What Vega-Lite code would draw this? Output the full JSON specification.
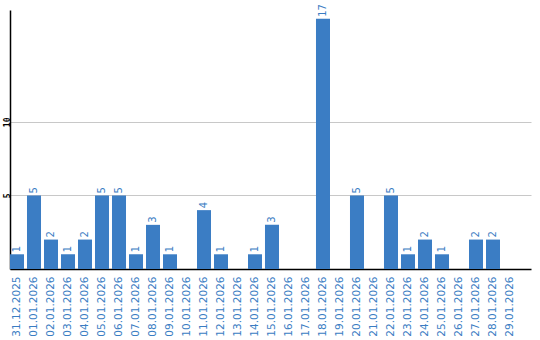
{
  "$schema": "https://vega.github.io/schema/vega-lite/v6.json",
  "width": 521,
  "height": 259,
  "autosize": {"type": "none"},
  "padding": {"left": 10, "top": 10, "right": 9, "bottom": 71},
  "background": "white",
  "config": {"view": {"stroke": null}},
  "data": {"values": [
    {"date": "31.12.2025", "count": 1},
    {"date": "01.01.2026", "count": 5},
    {"date": "02.01.2026", "count": 2},
    {"date": "03.01.2026", "count": 1},
    {"date": "04.01.2026", "count": 2},
    {"date": "05.01.2026", "count": 5},
    {"date": "06.01.2026", "count": 5},
    {"date": "07.01.2026", "count": 1},
    {"date": "08.01.2026", "count": 3},
    {"date": "09.01.2026", "count": 1},
    {"date": "10.01.2026", "count": 0},
    {"date": "11.01.2026", "count": 4},
    {"date": "12.01.2026", "count": 1},
    {"date": "13.01.2026", "count": 0},
    {"date": "14.01.2026", "count": 1},
    {"date": "15.01.2026", "count": 3},
    {"date": "16.01.2026", "count": 0},
    {"date": "17.01.2026", "count": 0},
    {"date": "18.01.2026", "count": 17},
    {"date": "19.01.2026", "count": 0},
    {"date": "20.01.2026", "count": 5},
    {"date": "21.01.2026", "count": 0},
    {"date": "22.01.2026", "count": 5},
    {"date": "23.01.2026", "count": 1},
    {"date": "24.01.2026", "count": 2},
    {"date": "25.01.2026", "count": 1},
    {"date": "26.01.2026", "count": 0},
    {"date": "27.01.2026", "count": 2},
    {"date": "28.01.2026", "count": 2},
    {"date": "29.01.2026", "count": 0}
  ]},
  "encoding": {
    "x": {
      "field": "date", "type": "nominal", "sort": null,
      "scale": {"paddingInner": 0.176, "paddingOuter": 0.412, "align": 0},
      "axis": {
        "title": null, "labelAngle": -90, "labelAlign": "right", "labelBaseline": "middle",
        "labelColor": "#3a7dc3", "labelFont": "DejaVu Sans", "labelFontSize": 10.5,
        "labelPadding": 7, "ticks": false, "domainColor": "#000000", "domainWidth": 1.5,
        "grid": false
      }
    },
    "y": {
      "field": "count", "type": "quantitative",
      "scale": {"domain": [0, 17.6], "nice": false},
      "axis": {
        "title": null, "values": [5, 10], "grid": true, "gridColor": "#c8c8c8", "gridWidth": 1,
        "ticks": false, "domainColor": "#000000", "domainWidth": 1.5,
        "labelAngle": -90, "labelAlign": "center", "labelBaseline": "middle",
        "labelFont": "DejaVu Sans Mono", "labelFontWeight": "bold", "labelFontSize": 8,
        "labelColor": "#000000", "labelPadding": 3
      }
    }
  },
  "layer": [
    {"mark": {"type": "bar", "color": "#3b7dc4"}},
    {
      "transform": [{"filter": "datum.count > 0"}],
      "mark": {"type": "text", "angle": -90, "align": "left", "baseline": "middle", "dx": 2,
               "color": "#3a7dc3", "font": "DejaVu Sans", "fontSize": 10},
      "encoding": {"text": {"field": "count", "type": "quantitative"}}
    }
  ]
}
